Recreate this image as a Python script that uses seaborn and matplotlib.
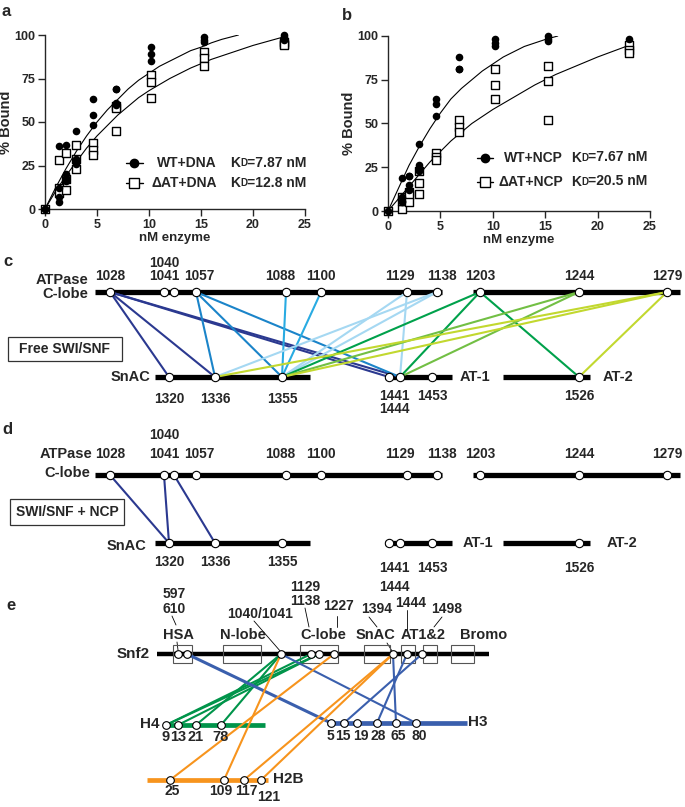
import pandas as pd
import matplotlib
matplotlib.use("Agg")
from matplotlib import pyplot as plt
from matplotlib.patches import Rectangle
import seaborn as sns

# ---------------- binding data (panels a, b) ----------------
conc_levels = [0, 1.3, 2, 3, 4.6, 6.8, 10.2, 15.3, 23]
wt_dna = [[0, 0], [36, 12, 7, 4], [37, 20, 18, 16], [45, 29, 27, 26], [63, 54, 48],
          [69, 69, 61, 60], [93, 89, 85], [99, 97, 96], [100, 99, 97]]
at_dna = [[0], [28, 12, 9], [32, 17, 11], [37, 29, 23], [38, 34, 31],
          [59, 58, 45], [77, 73, 64], [90, 87, 82], [96, 95, 94]]
wt_ncp = [[0], [19, 8, 6, 5], [20, 20, 15, 12], [38, 26, 24, 23], [64, 61, 54],
          [88, 81, 81], [98, 96, 94], [100, 98, 97], [98]]
at_ncp = [[0], [1, 6, 8], [11, 9, 5], [23, 16, 10], [33, 31, 29],
          [52, 48, 45], [81, 72, 64], [83, 74, 52], [95, 92, 90]]

# fitted curves
wt_dna_fit_x = [0, 1, 2, 3, 4, 5, 6, 7, 8, 9, 10, 11, 12, 13, 14, 15, 16, 17, 18.6]
wt_dna_fit_y = [0, 12, 23, 33, 42, 50, 57, 63, 69, 74, 78, 82, 85, 88, 91, 93, 95.5, 97.5, 100]
at_dna_fit_x = [0, 1, 2, 3, 4, 5, 6, 7, 8, 9, 10, 12, 14, 16, 18, 20, 23]
at_dna_fit_y = [0, 10, 19, 27, 35, 42, 48, 54, 59, 64, 68, 75, 81, 86, 90, 94, 99]
wt_ncp_fit_x = [0, 1, 2, 3, 4, 5, 6, 7, 8, 9, 10, 11, 12, 13, 14, 15, 16.2]
wt_ncp_fit_y = [0, 13, 26, 37, 47, 56, 64, 70, 75, 80, 84, 88, 91, 94, 96, 98, 100]
at_ncp_fit_x = [0, 1, 2, 3, 4, 5, 6, 7, 8, 10, 12, 14, 16, 18, 20, 22.7]
at_ncp_fit_y = [0, 7, 14, 21, 28, 34, 40, 45, 50, 58, 65, 72, 78, 83, 88, 94]

legend_a = ["WT+DNA", "\u0394AT+DNA"]
legend_b = ["WT+NCP", "\u0394AT+NCP"]
kd_a = ["7.87", "12.8"]
kd_b = ["7.67", "20.5"]

# ---------------- crosslink maps (panels c, d) ----------------
clobe_sites = [1028, 1040, 1041, 1057, 1088, 1100, 1129, 1138, 1203, 1244, 1279]
snac_sites = [1320, 1336, 1355, 1441, 1444, 1453, 1526]
free_links = [(1028, 1320), (1028, 1336), (1028, 1441), (1028, 1444),
              (1057, 1336), (1057, 1355), (1057, 1444),
              (1088, 1355), (1100, 1355),
              (1129, 1444), (1129, 1355), (1138, 1336), (1138, 1355),
              (1203, 1355), (1203, 1444), (1203, 1526),
              (1244, 1355), (1244, 1444),
              (1279, 1336), (1279, 1355), (1279, 1526)]
ncp_links = [(1028, 1320), (1040, 1320), (1041, 1336)]

# ---------------- histone crosslinks (panel e) ----------------
snf2_sites = [597, 610, 1040, 1129, 1138, 1227, 1394, 1444, 1498]
snf2_labels = ["597", "610", "1040/1041", "1129", "1138", "1227", "1394", "1444", "1498"]
domain_names = ["HSA", "N-lobe", "C-lobe", "SnAC", "AT1&2", "Bromo"]
h4_sites = [9, 13, 21, 78]
h3_sites = [5, 15, 19, 28, 65, 80]
h2b_sites = [25, 109, 117, 121]
h4_links = [(1129, 9), (1138, 9), (1138, 13), (1040, 21), (1040, 78)]
h3_links = [(610, 5), (1040, 80), (1394, 65), (1444, 28), (1498, 15)]
h2b_links = [(1040, 109), (1227, 25), (1394, 117), (1394, 121)]

# ---------------- layout (pixel positions) ----------------
top_x = {1028: 110, 1040: 164, 1041: 174, 1057: 196, 1088: 286, 1100: 321,
         1129: 407, 1138: 437, 1203: 480, 1244: 579, 1279: 667}
top_lab_shift = {1057: 3, 1088: -6, 1129: -7, 1138: 5}
bot_x = {1320: 169, 1336: 215, 1355: 282, 1441: 389, 1444: 400, 1453: 432, 1526: 579}
top_segs = [(95, 442), (473, 680)]
bot_segs = [(155, 310), (385, 452), (503, 590)]
link_colors = {1028: "#2b3990", 1040: "#2b3990", 1041: "#2b3990", 1057: "#1b84c9",
               1088: "#29abe2", 1100: "#29abe2", 1129: "#a5d8f2", 1138: "#a5d8f2",
               1203: "#00a14b", 1244: "#72bf44", 1279: "#c2d82f"}

snf2_x = {597: 178, 610: 187, 1040: 281, 1129: 311, 1138: 319, 1227: 334,
          1394: 393, 1444: 407, 1498: 422}
snf2_lab_xy = [(174, 594), (174, 609), (260, 614), (305, 587), (305, 601),
               (339, 606), (377, 609), (411, 603), (447, 609)]
leaders = [((172, 616), (176, 625)), ((177, 642), (178, 650)), ((254, 621), (281, 652)),
           ((305, 608), (309, 627)), ((337, 616), (337, 627)), ((369, 617), (377, 627)),
           ((387, 643), (392, 651)), ((407, 610), (407, 631)), ((442, 617), (434, 627))]
domain_boxes = [(173, 192), (223, 261), (300, 338), (364, 390), (401, 415), (423, 437), (451, 474)]
domain_lab_x = [179, 243, 323, 376, 423, 484]
h4_x = {9: 166, 13: 178, 21: 196, 78: 221}
h3_x = {5: 331, 15: 344, 19: 357, 28: 377, 65: 396, 80: 416}
h3_lab_x = {5: 330, 15: 343, 19: 361, 28: 378, 65: 398, 80: 419}
h2b_x = {25: 170, 109: 224, 117: 244, 121: 261}
h2b_lab_xy = {25: (172, 791), 109: (221, 791), 117: (246, 791), 121: (269, 797)}

sns.set_theme(style="ticks")
plt.rcParams["font.family"] = ["Liberation Sans", "DejaVu Sans"]
plt.rcParams["font.weight"] = "bold"
plt.rcParams["axes.labelweight"] = "bold"

fig = plt.figure(figsize=(6.85, 8.07), dpi=100)
ov = fig.add_axes([0, 0, 1, 1])
ov.set_xlim(0, 685)
ov.set_ylim(807, 0)
ov.axis("off")


def long_df(vals):
    rows = []
    for c, ys in zip(conc_levels, vals):
        for y in ys:
            rows.append({"conc": c, "bound": y})
    return pd.DataFrame(rows)


def binding_panel(rect, wt, at, wt_fit, at_fit, names, kds, leg_x, leg_y, txt_r, k_x):
    ax = fig.add_axes(rect)
    ax.patch.set_visible(False)
    sns.lineplot(x=wt_fit[0], y=wt_fit[1], color="black", lw=0.8, ax=ax)
    sns.lineplot(x=at_fit[0], y=at_fit[1], color="black", lw=0.8, ax=ax)
    sns.scatterplot(data=long_df(at), x="conc", y="bound", marker="s", s=40,
                    color="white", edgecolor="black", linewidth=1.0, ax=ax, clip_on=False, zorder=3)
    sns.scatterplot(data=long_df(wt), x="conc", y="bound", marker="o", s=30,
                    color="black", edgecolor="black", linewidth=0, ax=ax, clip_on=False, zorder=4)
    ax.set_xlim(0, 25)
    ax.set_ylim(0, 100)
    ax.set_xticks([0, 5, 10, 15, 20, 25])
    ax.set_yticks([0, 25, 50, 75, 100])
    ax.tick_params(labelsize=9, length=5, width=1, pad=2)
    for s in ["left", "bottom"]:
        ax.spines[s].set_linewidth(1)
    sns.despine(ax=ax)
    ax.set_xlabel("nM enzyme", fontsize=9.5, labelpad=1)
    ax.set_ylabel("% Bound", fontsize=10.5, labelpad=1)
    # legend drawn by hand (labels right aligned)
    markers = [dict(marker="o", ms=6, mfc="black"), dict(marker="s", ms=7, mfc="white")]
    for i in range(2):
        ax.plot(leg_x, [leg_y[i]] * 2, color="black", lw=1, clip_on=False)
        ax.plot([sum(leg_x) / 2], [leg_y[i]], color="black", mec="black", mew=1,
                clip_on=False, **markers[i])
        ax.text(txt_r, leg_y[i], names[i], ha="right", va="center", fontsize=10)
        t = ax.text(k_x, leg_y[i], "K", ha="left", va="center", fontsize=10)
        t2 = ax.annotate("D", xy=(1, 0.12), xycoords=t, va="bottom", fontsize=7)
        ax.annotate("=" + kds[i] + " nM", xy=(1, -0.12), xycoords=t2, va="bottom", fontsize=10)
    return ax


binding_panel([45 / 685, 1 - 209 / 807, 260 / 685, 174 / 807], wt_dna, at_dna,
              (wt_dna_fit_x, wt_dna_fit_y), (at_dna_fit_x, at_dna_fit_y),
              legend_a, kd_a, [7.8, 9.4], [26.4, 14.9], 16.5, 17.8)
binding_panel([388 / 685, 1 - 211 / 807, 262 / 685, 175 / 807], wt_ncp, at_ncp,
              (wt_ncp_fit_x, wt_ncp_fit_y), (at_ncp_fit_x, at_ncp_fit_y),
              legend_b, kd_b, [8.5, 10.0], [30.3, 16.6], 16.7, 17.5)

for lab, x, y in [("a", 1, 11), ("b", 342, 16), ("c", 3, 261), ("d", 2, 430), ("e", 6, 605)]:
    ov.text(x, y, lab, fontsize=12, ha="left", va="center")


def draw_map(y_top, y_bot, links, top_dy, dy_1040, snac_dy, at_dy, dy_1444,
             atp_y, clobe_y, snac_lab_r, box, box_text, at_lab_x):
    for x0, x1 in top_segs:
        ov.plot([x0, x1], [y_top, y_top], color="black", lw=3.8, solid_capstyle="butt")
    for x0, x1 in bot_segs:
        ov.plot([x0, x1], [y_bot, y_bot], color="black", lw=3.8, solid_capstyle="butt")
    for a, b in links:
        ov.plot([top_x[a], bot_x[b]], [y_top, y_bot], color=link_colors[a], lw=1.5, zorder=3)
    ov.plot([top_x[r] for r in clobe_sites], [y_top] * len(clobe_sites), "o", ms=6,
            mfc="white", mec="black", mew=0.8, zorder=5)
    ov.plot([bot_x[r] for r in snac_sites], [y_bot] * len(snac_sites), "o", ms=6,
            mfc="white", mec="black", mew=0.8, zorder=5)
    fs = 9.8
    for r in clobe_sites:
        if r == 1040:
            continue
        if r == 1041:
            ov.text(top_x[1040], y_top - top_dy, "1041", ha="center", va="center", fontsize=fs)
            ov.text(top_x[1040], y_top - dy_1040, "1040", ha="center", va="center", fontsize=fs)
        else:
            ov.text(top_x[r] + top_lab_shift.get(r, 0), y_top - top_dy, str(r),
                    ha="center", va="center", fontsize=fs)
    for r in snac_sites:
        if r == 1444:
            continue
        if r == 1441:
            xm = (bot_x[1441] + bot_x[1444]) / 2
            ov.text(xm, y_bot + at_dy, "1441", ha="center", va="center", fontsize=fs)
            ov.text(xm, y_bot + dy_1444, "1444", ha="center", va="center", fontsize=fs)
        elif r < 1400:
            ov.text(bot_x[r], y_bot + snac_dy, str(r), ha="center", va="center", fontsize=fs)
        else:
            ov.text(bot_x[r], y_bot + at_dy, str(r), ha="center", va="center", fontsize=fs)
    ov.text(atp_y[0], atp_y[1], "ATPase", ha="right", va="center", fontsize=10.5)
    ov.text(clobe_y[0], clobe_y[1], "C-lobe", ha="right", va="center", fontsize=10.5)
    ov.text(snac_lab_r[0], snac_lab_r[1], "SnAC", ha="right", va="center", fontsize=10.5)
    ov.text(at_lab_x[0], y_bot, "AT-1", ha="left", va="center", fontsize=10.5)
    ov.text(at_lab_x[1], y_bot, "AT-2", ha="left", va="center", fontsize=10.5)
    ov.add_patch(Rectangle((box[0], box[1]), box[2] - box[0], box[3] - box[1],
                           fill=False, ec="#333333", lw=0.9))
    ov.text((box[0] + box[2]) / 2, (box[1] + box[3]) / 2, box_text,
            ha="center", va="center", fontsize=10)


draw_map(292, 377, free_links, 16, 29, 22, 19, 32, (88, 280), (88, 294), (150, 377),
         (8, 337, 122, 361), "Free SWI/SNF", (460, 603))
draw_map(475, 543, ncp_links, 21, 40, 19, 25, 44, (92, 454), (90, 473), (146, 546),
         (10, 499, 124, 525), "SWI/SNF + NCP", (463, 607))

# ---------------- panel e ----------------
snf2_y, h4_y, h3_y, h2b_y = 654, 725, 723, 780
ov.plot([157, 489], [snf2_y, snf2_y], color="black", lw=3.2, solid_capstyle="butt", zorder=2)
for x0, x1 in domain_boxes:
    ov.add_patch(Rectangle((x0, 645), x1 - x0, 18, fill=False, ec="#555555", lw=0.8, zorder=3))
for name, x in zip(domain_names, domain_lab_x):
    ov.text(x, 635, name, ha="center", va="center", fontsize=10.5)
ov.text(150, snf2_y, "Snf2", ha="right", va="center", fontsize=11)
for lab, (x, y) in zip(snf2_labels, snf2_lab_xy):
    ov.text(x, y, lab, ha="center", va="center", fontsize=10)
for (x0, y0), (x1, y1) in leaders:
    ov.plot([x0, x1], [y0, y1], color="black", lw=0.6)

ov.plot([163, 265], [h4_y, h4_y], color="#00944a", lw=3.4, solid_capstyle="butt", zorder=2)
ov.plot([327, 467], [h3_y, h3_y], color="#3a5fad", lw=3.4, solid_capstyle="butt", zorder=2)
ov.plot([147, 268], [h2b_y, h2b_y], color="#f7941d", lw=3.4, solid_capstyle="butt", zorder=2)

for a, b in h4_links:
    ov.plot([snf2_x[a], h4_x[b]], [snf2_y, h4_y], color="#00944a", lw=1.5, zorder=3)
for a, b in h3_links:
    ov.plot([snf2_x[a], h3_x[b]], [snf2_y, h3_y], color="#3a5fad",
            lw=2.2 if a == 610 else 1.5, zorder=3)
for a, b in h2b_links:
    ov.plot([snf2_x[a], h2b_x[b]], [snf2_y, h2b_y], color="#f7941d", lw=1.5, zorder=3)

node_kw = dict(ms=5.5, mfc="white", mec="black", mew=0.8, zorder=5, ls="none", marker="o")
ov.plot([snf2_x[r] for r in snf2_sites], [snf2_y] * len(snf2_sites), **node_kw)
ov.plot([h4_x[r] for r in h4_sites], [h4_y] * len(h4_sites), **node_kw)
ov.plot([h3_x[r] for r in h3_sites], [h3_y] * len(h3_sites), **node_kw)
ov.plot([h2b_x[r] for r in h2b_sites], [h2b_y] * len(h2b_sites), **node_kw)

for r in h4_sites:
    ov.text(h4_x[r], h4_y + 12, str(r), ha="center", va="center", fontsize=10.5)
for r in h3_sites:
    ov.text(h3_lab_x[r], h3_y + 13, str(r), ha="center", va="center", fontsize=10)
for r in h2b_sites:
    x, y = h2b_lab_xy[r]
    ov.text(x, y, str(r), ha="center", va="center", fontsize=10)
ov.text(160, h4_y - 1, "H4", ha="right", va="center", fontsize=11)
ov.text(468, h3_y - 1, "H3", ha="left", va="center", fontsize=11)
ov.text(273, h2b_y - 1, "H2B", ha="left", va="center", fontsize=11)

fig.savefig("out.png", dpi=100)
